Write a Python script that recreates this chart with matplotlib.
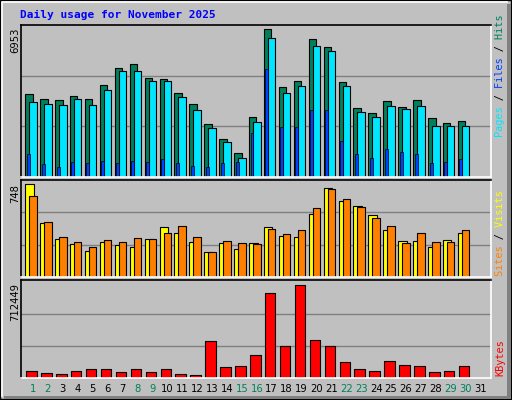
import matplotlib
matplotlib.use("Agg")
import matplotlib.pyplot as plt
from matplotlib.patches import Rectangle
import numpy as np

days = list(range(1, 31))
weekend = [1, 2, 8, 9, 15, 16, 22, 23, 29, 30]
hits = [3776,3546,3500,3684,3546,4191,4973,5157,4513,4467,3822,3362,2441,1750,1105,2763,
        6769,4098,4375,6309,5940,4329,3177,2947,3454,3223,3500,2717,2487,2579]
files = [3408,3362,3316,3546,3316,3960,4835,4835,4375,4375,3638,3085,2256,1612,875,2533,
         6355,3822,4144,5987,5756,4144,2993,2763,3270,3131,3270,2349,2349,2349]
pages = [1059,599,461,691,645,737,645,737,691,829,645,507,461,645,691,2026,
         4927,2303,2303,3085,3085,1658,1059,875,1289,1151,1059,645,691,829]
visits = [717,413,296,257,203,273,249,234,296,382,343,273,195,265,218,265,
          382,319,312,483,686,584,545,475,366,280,280,234,288,343]
sites = [623,421,312,273,234,288,273,304,296,343,390,312,195,280,265,257,
         374,335,366,530,678,600,538,452,397,265,343,273,273,366]
kbytes = [55770,40560,32955,55770,63375,63375,48165,63375,48165,63375,32955,25350,276315,
          78585,86190,169845,633750,238290,694590,283920,238290,116610,63375,55770,124215,
          93795,86190,48165,55770,86190]
max_hits, max_sites, max_kb = 6953, 748, 712449

W, H = 512, 400
fig = plt.figure(figsize=(W/100, H/100), dpi=100)
fig.patch.set_facecolor("#C0C0C0")

def frac(x0, y0, x1, y1):
    return [x0/W, 1-y1/H, (x1-x0)/W, (y1-y0)/H]

bg = fig.add_axes([0, 0, 1, 1]); bg.set_xlim(0, W); bg.set_ylim(H, 0); bg.axis("off")
bg.add_patch(Rectangle((0, 0), W-1, H-1, fill=False, ec="black", lw=1))
bg.add_patch(Rectangle((507, 4), 4, 395, color="#808080", lw=0))
bg.add_patch(Rectangle((4, 396), 507, 3, color="#808080", lw=0))
bg.plot([2, 2, 507], [396, 2, 2], color="white", lw=1.2)
bg.text(20, 15, "Daily usage for November 2025", color="#0000FF", fontsize=8,
        family="DejaVu Sans Mono", weight="bold", va="center")

xl = (0.176, 31.68)

def setup(ax, ymax):
    ax.set_facecolor("#C0C0C0")
    ax.set_xlim(*xl); ax.set_ylim(0, ymax)
    ax.set_xticks([]); ax.set_yticks([])
    for s in ("top", "left"):
        ax.spines[s].set_color("black")
    for s in ("bottom", "right"):
        ax.spines[s].set_color("white")
    for s in ax.spines.values():
        s.set_linewidth(1.2)

d = np.array(days)
ax1 = fig.add_axes(frac(20.7, 25, 490.7, 177))
setup(ax1, max_hits)
for g in (max_hits/3, 2*max_hits/3):
    ax1.axhline(g, color="#808080", lw=1, zorder=0)
ax1.bar(d-0.52, hits, width=0.5, align="edge", color="#00805C", ec="black", lw=0.8)
ax1.bar(d-0.25, files, width=0.5, align="edge", color="#00E6FF", ec="black", lw=0.8)
ax1.bar(d-0.42, pages, width=0.2, align="edge", color="#0040FF", ec="black", lw=0.5)

ax2 = fig.add_axes(frac(20.7, 180, 490.7, 277))
setup(ax2, max_sites)
for g in (max_sites/3, 2*max_sites/3):
    ax2.axhline(g, color="#808080", lw=1, zorder=0)
ax2.bar(d-0.52, visits, width=0.57, align="edge", color="#FFFF00", ec="black", lw=0.8)
ax2.bar(d-0.25, sites, width=0.5, align="edge", color="#FF8000", ec="black", lw=0.8)

ax3 = fig.add_axes(frac(20.7, 280, 490.7, 378))
setup(ax3, max_kb*1.025)
for g in (max_kb/3, 2*max_kb/3):
    ax3.axhline(g, color="#808080", lw=1, zorder=0)
ax3.bar(d-0.45, kbytes, width=0.7, align="edge", color="#FF0000", ec="black", lw=0.8)

for day in range(1, 32):
    x = 20.7 + (day - xl[0]) / (xl[1]-xl[0]) * 470
    bg.text(x, 389, str(day), ha="center", va="center", fontsize=7.2,
            color="#00805C" if day in weekend else "black")

for y, t in ((28, str(max_hits)), (184, str(max_sites)), (283, str(max_kb))):
    bg.text(15, y, t, rotation=90, ha="center", va="top", fontsize=7.2, color="black")

def legend(ybot, parts):
    full = "".join(p for p, _ in parts)
    pos = 0
    for p, c in parts:
        s = " " * pos + p + " " * (len(full) - pos - len(p))
        bg.text(500, ybot, s, rotation=90, ha="center", va="bottom", fontsize=7.4,
                family="DejaVu Sans Mono", color=c)
        pos += len(p)

legend(137, [("Pages", "#00E6FF"), (" / ", "black"), ("Files", "#0040FF"),
             (" / ", "black"), ("Hits", "#00805C")])
legend(276, [("Sites", "#FF8000"), (" / ", "black"), ("Visits", "#FFFF00")])
legend(376, [("KBytes", "#FF0000")])

fig.savefig("out.png", dpi=100, facecolor=fig.get_facecolor())
